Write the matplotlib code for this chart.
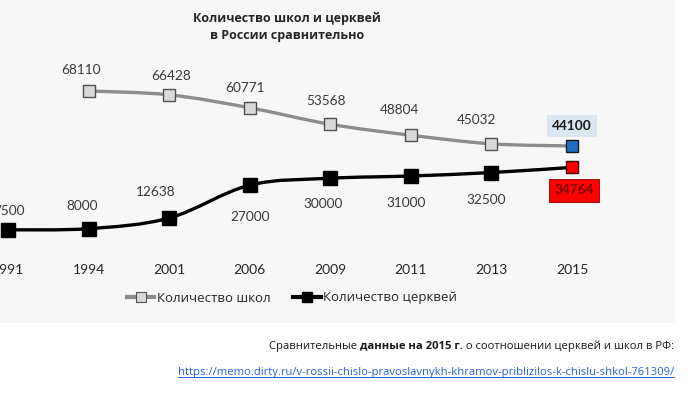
import matplotlib
matplotlib.use("Agg")
import matplotlib.pyplot as plt
from matplotlib.path import Path
from matplotlib.patches import PathPatch, Rectangle
from matplotlib.lines import Line2D
import numpy as np

years = ["1991", "1994", "2001", "2006", "2009", "2011", "2013", "2015"]
schools = [None, 68110, 66428, 60771, 53568, 48804, 45032, 44100]
churches = [7500, 8000, 12638, 27000, 30000, 31000, 32500, 34764]

title = "Количество школ и церквей\nв России сравнительно"
school_label = "Количество школ"
church_label = "Количество церквей"
link = "https://memo.dirty.ru/v-rossii-chislo-pravoslavnykh-khramov-priblizilos-k-chislu-shkol-761309/"

# label offsets in pixels (dx, dy)
school_off = [None, (-8, 21), (2, 19), (-5, 20), (-4, 23), (-11, 25), (-15, 24), (0, 20)]
church_off = [(1, 19), (-6, 23), (-13, 26), (0, -32), (-7, -26), (-5, -27), (-5, -27), (2, -23)]

plt.rcParams['font.family'] = ['Open Sans', 'DejaVu Sans']
num_font = ['Lato', 'Open Sans', 'DejaVu Sans']

W, H = 700, 399
fig = plt.figure(figsize=(7, 3.99), dpi=100)
fig.patch.set_facecolor("white")
fig.add_artist(Rectangle((0, 1 - 323 / H), 675 / W, 323 / H, transform=fig.transFigure,
                         facecolor="#f7f7f7", edgecolor="none", zorder=0))

# axes: x index 0 -> px 8, px per step 80.57 ; value 0 -> px 247, 0.0022907 px per unit
step = (572 - 8) / 7
scale = 55 / 24010
top_px = 60
ax = fig.add_axes([0, (H - 247) / H, 675 / W, (247 - top_px) / H])
ax.set_facecolor("none")
ax.set_xlim(-8 / step, (675 - 8) / step)
ax.set_ylim(0, (247 - top_px) / scale)
for s in ax.spines.values():
    s.set_visible(False)
ax.set_yticks([])
ax.set_xticks(range(len(years)))
ax.set_xticklabels(years, family=num_font, fontsize=10, color="#262626")
ax.tick_params(axis="x", length=0, pad=12)


def smooth_path(xs, ys):
    pts = np.column_stack([xs, ys]).astype(float)
    n = len(pts)
    verts = [pts[0]]
    codes = [Path.MOVETO]
    for i in range(n - 1):
        p0 = pts[max(i - 1, 0)]
        p1 = pts[i]
        p2 = pts[i + 1]
        p3 = pts[min(i + 2, n - 1)]
        c1 = p1 + (p2 - p0) / 6
        c2 = p2 - (p3 - p1) / 6
        verts += [c1, c2, p2]
        codes += [Path.CURVE4] * 3
    return Path(verts, codes)


sx = [i for i, v in enumerate(schools) if v is not None]
sy = [v for v in schools if v is not None]
cx = list(range(len(churches)))

ax.add_patch(PathPatch(smooth_path(sx, sy), facecolor="none", edgecolor="#8c8c8c",
                       lw=2.4, clip_on=False, zorder=2))
ax.add_patch(PathPatch(smooth_path(cx, churches), facecolor="none", edgecolor="black",
                       lw=2.4, clip_on=False, zorder=2))

ax.plot(sx[:-1], sy[:-1], ls="none", marker="s", ms=8.5, mfc="#d9d9d9", mec="#505050",
        mew=1.0, clip_on=False, zorder=3)
ax.plot(sx[-1:], sy[-1:], ls="none", marker="s", ms=8.5, mfc="#1f6fc4", mec="#1a1a1a",
        mew=1.0, clip_on=False, zorder=3)
ax.plot(cx[:-1], churches[:-1], ls="none", marker="s", ms=9.5, mfc="black", mec="black",
        clip_on=False, zorder=3)
ax.plot(cx[-1:], churches[-1:], ls="none", marker="s", ms=8.5, mfc="#ff0000", mec="#3a0000",
        mew=1.0, clip_on=False, zorder=3)

px2pt = 72 / 100
for i, v in enumerate(schools):
    if v is None:
        continue
    dx, dy = school_off[i]
    last = i == len(schools) - 1
    ax.annotate(str(v), (i, v), xytext=(dx * px2pt, dy * px2pt), textcoords="offset points",
                ha="center", va="center", family=num_font, fontsize=9.8,
                color="#1a1a1a" if last else "#3a3a3a", fontweight="bold" if last else "normal",
                bbox=dict(boxstyle="square,pad=0.4", fc="#dce6f0", ec="none") if last else None,
                annotation_clip=False)

for i, v in enumerate(churches):
    dx, dy = church_off[i]
    last = i == len(churches) - 1
    ax.annotate(str(v), (i, v), xytext=(dx * px2pt, dy * px2pt), textcoords="offset points",
                ha="center", va="center", family=num_font, fontsize=9.8,
                color="#7a0000" if last else "#3a3a3a", fontweight="bold" if last else "normal",
                bbox=dict(boxstyle="square,pad=0.4", fc="#ff0000", ec="#8a0000", lw=0.6) if last else None,
                annotation_clip=False)

fig.text(287 / W, 1 - 27 / H, title, ha="center", va="center", fontsize=9,
         fontweight="bold", color="#262626", linespacing=1.45)

handles = [
    Line2D([], [], color="#8c8c8c", lw=3, marker="s", ms=6.5, mfc="#d9d9d9", mec="#505050", mew=0.8),
    Line2D([], [], color="black", lw=3, marker="s", ms=7, mfc="black", mec="black"),
]
fig.legend(handles, [school_label, church_label], loc="center", bbox_to_anchor=(292 / W, 1 - 298 / H),
           ncol=2, frameon=False, fontsize=9.5, handlelength=2.1, handletextpad=0.2,
           columnspacing=1.7, labelcolor="#262626")

# caption below the chart, right aligned
cap_y = 1 - 346 / H
t3 = fig.text(674 / W, cap_y, " о соотношении церквей и школ в РФ:", ha="right", va="center",
              fontsize=8.1, color="#1a1a1a")
t2 = fig.text(0, 0, "данные на 2015 г.", fontsize=8.1, fontweight="bold", color="#1a1a1a")
t1 = fig.text(0, 0, "Сравнительные ", fontsize=8.1, color="#1a1a1a")
fig.canvas.draw()
r = fig.canvas.get_renderer()
b3 = t3.get_window_extent(r)
t2.set_ha("right")
t2.set_va("center")
t2.set_position((b3.x0 / W, cap_y))
fig.canvas.draw()
b2 = t2.get_window_extent(r)
t1.set_ha("right")
t1.set_va("center")
t1.set_position((b2.x0 / W, cap_y))

lk = fig.text(674 / W, 1 - 373 / H, link, ha="right", va="center", fontsize=8.1, color="#2a62d6")
fig.canvas.draw()
bl = lk.get_window_extent(r)
uy = (bl.y0 + 2) / H
fig.add_artist(Line2D([bl.x0 / W, bl.x1 / W], [uy, uy], transform=fig.transFigure,
                      color="#2a62d6", lw=0.7))

fig.savefig("out.png", dpi=100, facecolor="white")
